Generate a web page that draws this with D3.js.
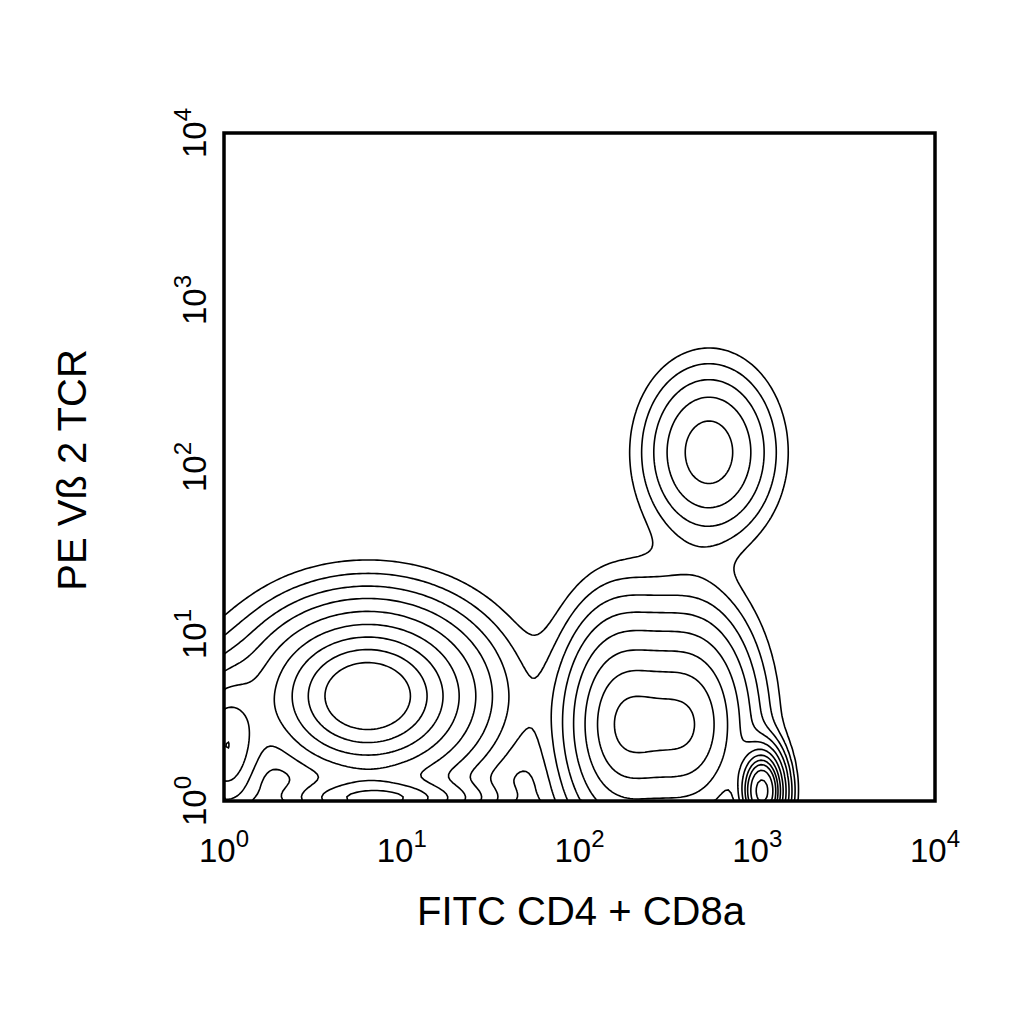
<!DOCTYPE html>
<html><head><meta charset="utf-8">
<script src="https://cdn.jsdelivr.net/npm/d3@7"></script>
<style>body{margin:0;background:#fff}</style></head>
<body><svg id="c" width="1024" height="1024"></svg>
<script>
// Population clusters (log10 units)
const clusterNames = ["double-neg","CD4/8 low a","CD4/8 low b","CD4/8 high","Vb2+","edge","bottom"];
const clusterX     = [0.80, 2.22, 2.62, 3.02, 2.72, 0.00, 0.85];
const clusterY     = [0.62, 0.45, 0.45, 0.05, 2.08, 0.30, 0.00];
const clusterSX    = [0.36, 0.19, 0.20, 0.07, 0.20, 0.12, 0.30];
const clusterSY    = [0.30, 0.38, 0.38, 0.14, 0.28, 0.25, 0.07];
const clusterW     = [1.00, 0.60, 0.60, 1.40, 0.30, 0.45, 0.45];
const levels       = [0.025,0.05,0.09,0.15,0.24,0.36,0.5,0.65,0.8,1.0,1.3];
const decades      = [0,1,2,3,4];
const xTitle = "FITC CD4 + CD8a", yTitle = "PE Vß 2 TCR";

const svg = d3.select("#c");
const L=224,R=935,T=133,B=801;
const x = d3.scaleLinear().domain([0,4]).range([L,R]);
const y = d3.scaleLinear().domain([0,4]).range([B,T]);
const n=240, vals=new Array(n*n);
for(let j=0;j<n;j++)for(let i=0;i<n;i++){
  const gx=i*4/(n-1), gy=j*4/(n-1); let v=0;
  for(let k=0;k<clusterX.length;k++){
    const dx=(gx-clusterX[k])/clusterSX[k], dy=(gy-clusterY[k])/clusterSY[k];
    v+=clusterW[k]*Math.exp(-(dx*dx+dy*dy)/2);
  }
  vals[j*n+i]=v;
}
const cs=d3.contours().size([n,n]).thresholds(levels)(vals);
const tr=d3.geoTransform({point(px,py){this.stream.point(x(px*4/(n-1)),y(py*4/(n-1)));}});
const path=d3.geoPath(tr);
svg.append("clipPath").attr("id","clip").append("rect").attr("x",L).attr("y",T).attr("width",R-L).attr("height",B-T);
svg.append("g").attr("clip-path","url(#clip)").selectAll("path").data(cs).join("path")
  .attr("d",path).attr("fill","none").attr("stroke","#000").attr("stroke-width",1.6);
svg.append("rect").attr("x",L).attr("y",T).attr("width",R-L).attr("height",B-T)
  .attr("fill","none").attr("stroke","#000").attr("stroke-width",3.5);
const font="Liberation Sans, Arial, sans-serif";
decades.forEach(d=>{
  const t=svg.append("text").attr("x",x(d)).attr("y",862).attr("text-anchor","middle")
    .attr("font-family",font).attr("font-size",33);
  t.append("tspan").text("10");
  t.append("tspan").attr("dy",-15).attr("font-size",24).text(d);
  const g=svg.append("g").attr("transform",`translate(206,${y(d)}) rotate(-90)`);
  const u=g.append("text").attr("text-anchor","middle").attr("font-family",font).attr("font-size",33);
  u.append("tspan").text("10");
  u.append("tspan").attr("dy",-15).attr("font-size",24).text(d);
});
svg.append("text").attr("x",581).attr("y",925).attr("text-anchor","middle")
  .attr("font-family",font).attr("font-size",40).text(xTitle);
svg.append("text").attr("transform",`translate(86,470) rotate(-90)`).attr("text-anchor","middle")
  .attr("font-family",font).attr("font-size",40).text(yTitle);
</script></body></html>
